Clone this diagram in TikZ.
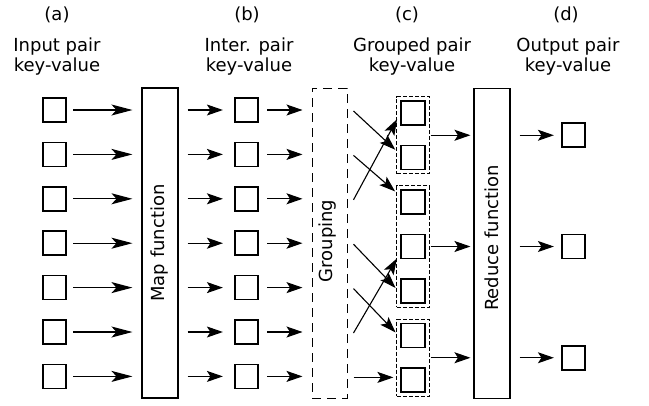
\documentclass[tikz,border=0pt]{standalone}
\usepackage{fontspec}
\setmainfont{DejaVu Sans}
\usetikzlibrary{arrows.meta,calc,fit}

\begin{document}
\begin{tikzpicture}[x=1pt,y=-1pt,
  kv/.style={draw, line width=1.7pt, minimum width=23.5pt, minimum height=24pt, inner sep=0pt},
  func/.style={draw, line width=1.1pt, minimum width=36pt, minimum height=310pt, inner sep=0pt},
  gbox/.style={func, dash pattern=on 9pt off 6pt, line width=1pt, minimum width=35pt},
  grp/.style={draw, dash pattern=on 4pt off 2pt, line width=1.1pt, inner sep=3.5pt},
  arr/.style={-{Stealth[length=16pt,width=11pt,inset=3.5pt]}, line width=1.1pt},
  longarr/.style={-{Stealth[length=21pt,width=11pt,inset=5pt]}, line width=1.2pt},
  lbl/.style={font=\fontsize{18}{20}\selectfont, anchor=base, inner sep=0pt},
  vtext/.style={font=\fontsize{18}{20}\selectfont, rotate=90, inner sep=0pt},
]
\useasboundingbox (0,0) rectangle (649,405);

% column headings
\node[lbl] (la)  at (57,20)  {(a)};
\node[lbl] (la1) at (57,51)  {Input pair};
\node[lbl] (la2) at (57,71)  {key-value};
\node[lbl] (lb)  at (247,20) {(b)};
\node[lbl] (lb1) at (249,51) {Inter. pair};
\node[lbl] (lb2) at (249,71) {key-value};
\node[lbl] (lc)  at (407,20) {(c)};
\node[lbl] (lc1) at (412,51) {Grouped pair};
\node[lbl] (lc2) at (412,71) {key-value};
\node[lbl] (ld)  at (566,20) {(d)};
\node[lbl] (ld1) at (568,51) {Output pair};
\node[lbl] (ld2) at (568,71) {key-value};

% processing stages
\node[func] (map) at (160,243) {};
\node[vtext] (maptxt) at (map.center) {Map function};
\node[gbox] (grouping) at (329.5,243) {};
\node[vtext] (grouptxt) at (327.5,241) {Grouping};
\node[func] (reduce) at (492,243.5) {};
\node[vtext] (redtxt) at (492,238) {Reduce function};

% input and intermediate pairs
\foreach \k in {1,...,7} {
  \node[kv] (in\k)  at (54.5,{110+44.4*(\k-1)}) {};
  \node[kv] (mid\k) at (246.5,{110+44.4*(\k-1)}) {};
  \coordinate (src\k) at ($(grouping.east |- mid\k)+(6,1)$);
  \node[kv] (g\k) at (413,{113+44.5*(\k-1)}) {};
  \draw[longarr, shorten <=6pt, shorten >=9pt] (in\k) -- (in\k -| map.west);
  \draw[arr, shorten <=9pt, shorten >=11pt] (map.east |- mid\k) -- (mid\k);
  \draw[arr, shorten <=8pt, shorten >=9pt] (mid\k) -- (mid\k -| grouping.west);
}

% groups of pairs sharing a key
\node[grp, fit=(g1)(g2)] (grpA) {};
\node[grp, fit=(g3)(g4)(g5)] (grpB) {};
\node[grp, fit=(g6)(g7)] (grpC) {};

% shuffle from the grouping stage
\draw[arr, shorten >=7pt] (src1) -- ($(g2.west)+(0,-3)$);
\draw[arr, shorten >=7pt] (src2) -- ($(g3.west)+(0,-6)$);
\draw[arr, shorten >=7pt] (src3) -- ($(g1.west)+(0,0)$);
\draw[arr, shorten >=7pt] (src4) -- ($(g5.west)+(0,2)$);
\draw[arr, shorten >=7pt] (src5) -- ($(g6.west)+(0,2)$);
\draw[arr, shorten >=7pt] (src6) -- ($(g4.west)+(0,6)$);
\draw[arr, shorten >=7pt] (src7) -- (src7 -| g7.west);

% output pairs
\foreach \G/\o in {grpA/1,grpB/2,grpC/3} {
  \node[kv] (out\o) at (573.5, 0 |- \G) {};
  \draw[arr, shorten <=1pt, shorten >=3pt] (\G.east) -- (\G.east -| reduce.west);
  \draw[arr, shorten <=9pt, shorten >=7pt] (reduce.east |- out\o) -- (out\o);
}
\end{tikzpicture}
\end{document}
